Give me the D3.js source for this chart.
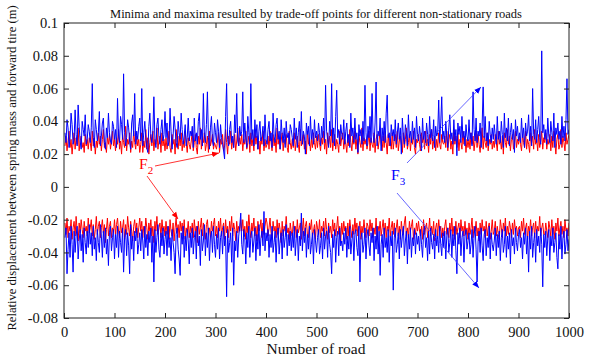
<!DOCTYPE html>
<html><head><meta charset="utf-8">
<script src="https://cdn.jsdelivr.net/npm/d3@7"></script>
<style>
html,body{margin:0;padding:0;background:#fff;}
svg{display:block;font-family:"Liberation Serif","Times New Roman",serif;}
</style></head>
<body>
<svg id="chart" width="599" height="358"></svg>
<script>
// ---- data (values in thousandths of a metre) ----
const roads = d3.range(2, 1001, 2);
const xTicks = [0,100,200,300,400,500,600,700,800,900,1000];
const yTicks = [-0.08,-0.06,-0.04,-0.02,0,0.02,0.04,0.06,0.08,0.1];
const titleText = "Minima and maxima resulted by trade-off points for different non-stationary roads";
const xLabel = "Number of road";
const yLabel = "Relative displacement between spring mass and forward tire (m)";

const blueMax = [
33,27,41,36,24,30,45,38,26,29,47,32,25,50,37,28,23,40,35,31,44,26,29,38,34,
27,36,63,30,24,41,35,28,33,46,25,31,39,42,27,23,36,30,45,33,28,26,40,37,29,
35,24,54,31,27,43,38,29,69,33,25,30,41,36,28,23,39,44,31,57,26,34,29,37,42,
28,60,25,33,40,30,24,21,37,45,31,27,34,55,29,24,38,42,30,26,35,41,28,32,46,
30,39,25,28,48,34,23,31,43,36,27,24,40,33,29,45,35,26,31,38,25,30,42,28,34,
31,37,24,42,28,33,26,40,45,29,35,25,57,32,27,38,58,30,23,36,43,28,25,39,33,
27,41,34,24,38,30,26,22,17,43,63,29,25,35,40,27,31,24,44,33,57,28,25,37,31,
34,58,27,39,30,24,43,33,26,63,29,35,25,41,30,38,23,34,40,28,31,37,25,44,29,
26,35,40,28,33,24,45,31,27,38,42,29,34,23,41,32,27,36,24,40,30,33,26,38,35,
30,25,42,29,36,24,33,40,28,46,26,34,31,20,39,32,37,25,43,29,35,26,41,30,34,
28,39,33,25,37,30,42,27,62,34,29,24,40,31,63,27,36,25,43,59,30,35,26,38,32,
29,41,26,34,39,27,32,24,45,31,36,27,42,29,33,21,38,31,35,26,40,28,62,33,25,
37,30,43,27,57,32,27,39,64,25,34,31,42,22,36,28,40,27,45,56,30,33,25,38,31,
35,28,41,26,33,39,29,36,20,42,31,26,38,33,25,44,30,34,27,40,29,36,24,43,32,
28,37,31,22,42,29,34,27,39,32,25,43,30,35,28,41,24,37,31,33,53,27,39,55,29,
34,27,40,31,24,36,44,29,33,26,41,28,35,19,39,32,37,27,43,30,34,25,38,31,28,
41,29,33,25,58,35,28,42,27,34,31,39,24,37,61,30,43,28,33,25,40,32,27,36,29,
38,31,26,43,29,34,27,40,32,24,45,30,36,28,42,25,33,39,29,35,21,41,31,37,28,
33,27,42,30,36,24,39,31,34,44,28,37,25,60,32,29,41,27,35,43,30,26,83,33,38,
29,35,26,42,31,27,40,33,28,45,24,36,32,39,29,34,26,43,30,37,28,41,66,32,35];

const redMax = [
25,31,22,28,34,24,29,20,27,33,23,30,26,36,22,28,31,24,27,21,32,25,29,23,30,
27,22,34,25,30,20,28,24,33,26,31,22,29,35,24,27,21,30,26,32,23,28,34,25,29,
22,30,26,35,23,28,20,32,27,24,37,22,29,26,33,21,28,24,34,27,23,31,25,29,21,
26,33,21,28,24,35,23,30,20,27,32,25,34,22,29,26,36,23,28,31,21,33,25,29,22,
30,23,27,34,24,21,32,26,29,20,35,27,23,31,25,33,22,28,24,34,27,21,30,26,23,
28,34,22,27,32,24,20,31,26,36,23,29,27,33,22,26,31,21,34,25,28,32,23,27,25,
23,28,33,21,29,26,32,22,25,35,27,20,31,26,34,23,29,24,32,22,28,36,25,30,26,
32,22,29,26,34,23,27,31,21,33,25,29,22,35,26,31,23,28,20,30,26,34,22,29,24,
26,31,23,34,27,22,32,25,29,21,36,26,30,23,28,33,22,29,26,32,24,21,34,27,23,
29,24,33,22,28,31,26,21,35,25,29,32,23,28,20,34,26,30,22,29,24,33,27,23,31,
24,32,27,22,30,26,34,23,29,20,33,26,31,24,35,22,28,32,23,29,26,21,34,25,30,
33,23,29,26,21,32,25,35,27,22,31,26,34,23,29,20,32,27,24,36,22,30,26,29,23,
27,34,22,30,26,24,33,21,29,32,23,28,35,26,22,31,24,34,27,20,32,25,29,23,33,
23,29,32,24,34,22,28,31,26,21,33,24,29,36,23,27,32,22,30,26,34,24,20,29,27,
32,26,22,33,27,31,23,34,25,29,21,32,26,35,23,28,31,22,29,24,33,26,23,32,27,
26,31,24,34,22,29,32,23,28,20,35,26,31,24,33,22,29,27,23,34,26,31,21,29,24,
29,23,33,26,31,22,28,34,24,32,26,21,29,36,23,31,27,24,33,22,29,26,32,23,28,
24,32,27,22,34,26,29,23,31,20,33,27,24,35,26,31,22,29,32,23,28,34,24,29,26,
31,26,22,32,27,24,34,23,29,26,21,33,27,31,23,35,26,29,22,32,24,28,34,23,30,
27,33,23,29,26,32,22,31,24,34,27,20,29,32,23,26,35,24,31,27,22,33,26,29,32];

const redMin = [
-22,-29,-19,-31,-24,-27,-20,-32,-25,-21,-30,-18,-27,-33,-22,-28,-20,-26,-31,-21,-27,-24,-30,-19,-28,
-25,-20,-30,-23,-32,-26,-18,-29,-24,-21,-31,-25,-20,-28,-23,-34,-26,-19,-30,-24,-21,-31,-25,-28,-20,
-29,-23,-19,-27,-31,-21,-28,-25,-20,-32,-23,-29,-18,-25,-30,-21,-27,-33,-24,-20,-28,-22,-31,-25,-19,
-27,-21,-31,-24,-29,-19,-25,-32,-22,-27,-20,-30,-24,-34,-21,-27,-18,-29,-25,-22,-31,-20,-27,-24,-30,
-21,-29,-24,-32,-20,-27,-30,-22,-33,-25,-19,-28,-23,-31,-21,-27,-22,-30,-20,-32,-25,-28,-21,-31,-24,
-28,-22,-31,-20,-27,-24,-34,-21,-29,-25,-19,-30,-22,-27,-32,-23,-20,-29,-25,-31,-21,-27,-23,-19,-30,
-24,-31,-21,-27,-19,-30,-25,-22,-32,-20,-28,-24,-31,-21,-27,-18,-30,-22,-26,-33,-21,-28,-24,-27,-20,
-27,-20,-30,-24,-32,-21,-28,-17,-25,-31,-22,-27,-19,-30,-24,-33,-21,-27,-25,-20,-31,-22,-29,-24,-19,
-22,-30,-25,-19,-28,-32,-21,-27,-24,-31,-20,-29,-22,-26,-34,-21,-30,-24,-27,-18,-28,-25,-32,-22,-27,
-30,-21,-27,-24,-31,-20,-28,-25,-22,-32,-27,-19,-30,-24,-21,-29,-31,-22,-26,-20,-30,-27,-23,-32,-21,
-25,-29,-20,-31,-24,-27,-21,-30,-19,-26,-32,-22,-28,-24,-31,-20,-27,-22,-30,-25,-18,-29,-24,-33,-22,
-29,-21,-27,-24,-32,-22,-30,-20,-26,-31,-23,-29,-19,-27,-22,-30,-25,-21,-32,-24,-28,-20,-27,-31,-22,
-24,-30,-20,-27,-22,-31,-25,-29,-19,-32,-24,-27,-21,-30,-25,-20,-29,-22,-31,-24,-27,-19,-30,-25,-21,
-29,-22,-31,-25,-20,-30,-24,-32,-21,-27,-29,-22,-18,-30,-25,-31,-21,-27,-24,-20,-32,-25,-29,-22,-27,
-21,-27,-30,-24,-32,-20,-29,-25,-22,-31,-27,-19,-30,-24,-29,-21,-33,-25,-22,-30,-20,-27,-24,-31,-25,
-30,-24,-20,-29,-25,-31,-22,-27,-19,-30,-24,-32,-21,-29,-25,-22,-31,-20,-27,-24,-30,-21,-29,-25,-32,
-22,-29,-25,-19,-31,-24,-27,-21,-30,-25,-33,-22,-29,-20,-27,-24,-31,-21,-30,-25,-22,-32,-27,-20,-29,
-27,-21,-30,-24,-29,-32,-20,-25,-31,-22,-27,-19,-30,-24,-29,-21,-25,-31,-22,-29,-20,-27,-24,-30,-25,
-24,-31,-21,-27,-19,-29,-25,-22,-32,-24,-27,-20,-30,-25,-22,-31,-21,-29,-24,-27,-18,-30,-25,-22,-29,
-29,-22,-27,-31,-21,-25,-30,-20,-29,-24,-32,-22,-27,-19,-30,-25,-21,-29,-24,-31,-20,-27,-25,-30,-22];

const blueMin = [
-31,-25,-53,-38,-28,-43,-24,-35,-52,-27,-40,-30,-24,-44,-33,-26,-39,-29,-46,-25,-34,-41,-27,-37,-23,
-35,-28,-42,-24,-38,-31,-45,-26,-34,-40,-23,-30,-43,-27,-37,-25,-41,-32,-48,-28,-24,-39,-31,-26,-44,
-29,-37,-24,-43,-27,-34,-40,-25,-52,-31,-26,-42,-28,-36,-53,-23,-38,-30,-45,-27,-33,-25,-41,-35,-28,
-39,-26,-33,-44,-24,-37,-29,-42,-27,-34,-25,-46,-30,-58,-26,-40,-31,-23,-38,-43,-28,-36,-25,-41,-32,
-27,-42,-24,-37,-31,-45,-26,-34,-40,-53,-29,-25,-38,-44,-54,-28,-35,-24,-43,-30,-39,-26,-33,-47,-28,
-37,-25,-41,-31,-27,-44,-24,-36,-30,-48,-26,-39,-33,-23,-42,-28,-37,-25,-45,-31,-27,-40,-24,-35,-43,
-29,-38,-25,-44,-31,-27,-41,-24,-36,-30,-67,-26,-40,-34,-28,-46,-25,-60,-33,-39,-27,-43,-30,-24,-16,
-35,-41,-26,-31,-47,-28,-37,-24,-43,-30,-27,-40,-33,-25,-45,-29,-38,-23,-42,-31,-27,-36,-15,-39,-28,
-33,-26,-43,-29,-37,-24,-40,-34,-27,-46,-30,-25,-41,-33,-28,-44,-26,-37,-31,-23,-42,-29,-36,-27,-39,
-28,-37,-24,-42,-31,-26,-45,-30,-36,-16,-39,-27,-34,-25,-43,-29,-38,-24,-41,-35,-28,-47,-26,-33,-40,
-31,-26,-41,-36,-28,-44,-25,-38,-30,-27,-43,-24,-35,-40,-53,-29,-37,-26,-46,-31,-27,-42,-25,-36,-33,
-39,-28,-35,-25,-43,-30,-38,-24,-41,-33,-27,-45,-29,-26,-37,-42,-24,-58,-31,-28,-40,-35,-25,-44,-30,
-26,-36,-42,-28,-34,-25,-45,-30,-38,-24,-41,-27,-54,-35,-29,-43,-25,-37,-31,-40,-26,-46,-30,-36,-27,
-63,-31,-25,-40,-35,-28,-44,-26,-37,-30,-24,-42,-33,-27,-47,-29,-38,-25,-43,-31,-36,-26,-41,-28,-35,
-30,-39,-26,-35,-43,-28,-24,-37,-31,-45,-27,-41,-25,-34,-38,-29,-44,-26,-36,-30,-40,-24,-35,-42,-28,
-37,-27,-44,-30,-25,-40,-34,-26,-43,-29,-36,-24,-39,-53,-28,-35,-25,-42,-31,-27,-46,-30,-26,-38,-33,
-28,-41,-35,-26,-43,-30,-24,-38,-58,-33,-27,-40,-25,-36,-45,-29,-26,-42,-31,-37,-24,-44,-28,-35,-39,
-33,-25,-42,-29,-37,-27,-45,-31,-26,-40,-35,-24,-43,-30,-38,-28,-47,-26,-36,-31,-41,-25,-34,-39,-29,
-26,-37,-31,-44,-28,-35,-25,-41,-30,-52,-27,-38,-24,-43,-34,-28,-46,-26,-36,-30,-40,-25,-35,-61,-29,
-37,-27,-42,-31,-26,-45,-30,-36,-25,-40,-34,-28,-43,-50,-29,-38,-24,-44,-31,-27,-41,-35,-26,-39,-32];

// ---- layout ----
const svg = d3.select("#chart");
const L = 64, R = 569, T = 23, B = 318;
const x = d3.scaleLinear().domain([0, 1000]).range([L, R]);
const y = d3.scaleLinear().domain([-0.08, 0.1]).range([B, T]);

const line = d3.line()
  .x((d, i) => x(roads[i]))
  .y(d => y(d / 1000));

const series = [
  {v: redMax, c: "#ff0000"},
  {v: redMin, c: "#ff0000"},
  {v: blueMax, c: "#0000ff"},
  {v: blueMin, c: "#0000ff"}
];
svg.append("defs").append("clipPath").attr("id","clip")
  .append("rect").attr("x",L).attr("y",T).attr("width",R-L).attr("height",B-T);
const g = svg.append("g").attr("clip-path","url(#clip)");
series.forEach(s => {
  g.append("path").datum(s.v)
    .attr("d", line).attr("fill","none")
    .attr("stroke", s.c).attr("stroke-width", 1)
    .attr("stroke-linejoin","miter");
});

// axes
const fmtY = d => String(+d.toFixed(2));
const fmtX = d3.format("d");
const axL = svg.append("g").attr("transform",`translate(${L},0)`)
  .call(d3.axisLeft(y).tickValues(yTicks).tickFormat(fmtY).tickSizeInner(-5).tickSizeOuter(0).tickPadding(6));
const axB = svg.append("g").attr("transform",`translate(0,${B})`)
  .call(d3.axisBottom(x).tickValues(xTicks).tickFormat(fmtX).tickSizeInner(-5).tickSizeOuter(0).tickPadding(9));
const axR = svg.append("g").attr("transform",`translate(${R},0)`)
  .call(d3.axisRight(y).tickValues(yTicks).tickFormat("").tickSizeInner(-5).tickSizeOuter(0));
const axT = svg.append("g").attr("transform",`translate(0,${T})`)
  .call(d3.axisTop(x).tickValues(xTicks).tickFormat("").tickSizeInner(-5).tickSizeOuter(0));
[axL, axB, axR, axT].forEach(a => {
  a.select(".domain").remove();
  a.selectAll("line").attr("stroke","#222");
  a.selectAll("text").attr("font-family","Liberation Serif, Times New Roman, serif")
    .attr("font-size", 14.5).attr("fill","#111");
});
svg.append("rect").attr("x",L).attr("y",T).attr("width",R-L).attr("height",B-T)
  .attr("fill","none").attr("stroke","#222").attr("stroke-width",1);

// title & labels
svg.append("text").attr("x", 316).attr("y", 18).attr("text-anchor","middle")
  .attr("font-size", 12.5).attr("fill","#111").text(titleText);
svg.append("text").attr("x", 316).attr("y", 354).attr("text-anchor","middle")
  .attr("font-size", 15.5).attr("fill","#111").text(xLabel);
svg.append("text").attr("transform","translate(16,168) rotate(-90)").attr("text-anchor","middle")
  .attr("font-size", 12.6).attr("fill","#111").text(yLabel);

// annotations
const defs = svg.select("defs");
[["ar","#ff0000"],["ab","#0000ff"]].forEach(([id,c]) => {
  defs.append("marker").attr("id",id).attr("viewBox","0 0 10 10").attr("refX",10).attr("refY",5)
    .attr("markerWidth",7).attr("markerHeight",7).attr("markerUnits","userSpaceOnUse").attr("orient","auto")
    .append("path").attr("d","M0,1 L10,5 L0,9 Z").attr("fill",c);
});
const arrows = [
  {x1:155,y1:166,x2:219,y2:153,c:"#ff0000",m:"ar"},
  {x1:147,y1:176,x2:178,y2:219,c:"#ff0000",m:"ar"},
  {x1:407,y1:163,x2:481,y2:87,c:"#4040ff",m:"ab"},
  {x1:397,y1:193,x2:479,y2:288,c:"#4040ff",m:"ab"}
];
arrows.forEach(a => svg.append("line").attr("x1",a.x1).attr("y1",a.y1).attr("x2",a.x2).attr("y2",a.y2)
  .attr("stroke",a.c).attr("stroke-width",0.8).attr("marker-end",`url(#${a.m})`));

const f2 = svg.append("text").attr("x",139).attr("y",169).attr("font-size",15.5).attr("fill","#ff0000");
f2.append("tspan").text("F");
f2.append("tspan").attr("font-size",11).attr("dy",5).text("2");
const f3 = svg.append("text").attr("x",391).attr("y",180).attr("font-size",15.5).attr("fill","#0000ff");
f3.append("tspan").text("F");
f3.append("tspan").attr("font-size",11).attr("dy",5).text("3");
</script>
</body></html>
